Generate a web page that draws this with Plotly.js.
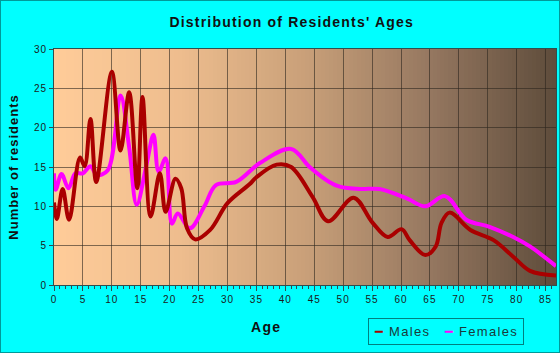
<!DOCTYPE html>
<html>
<head>
<meta charset="utf-8">
<script src="https://cdn.plot.ly/plotly-3.0.1.min.js"></script>
<style>
  html, body { margin: 0; padding: 0; background: #00FFFF; }
  #wrap { position: relative; width: 560px; height: 353px; }
  #bg { position: absolute; left: 54px; top: 49px; width: 502px; height: 236px; display: flex; }
  #bg div { height: 100%; flex: 1 1 0; }
  #chart { position: absolute; left: 0; top: 0; width: 560px; height: 353px; }
  #frame { position: absolute; left: 0; top: 0; width: 560px; height: 353px; box-sizing: border-box; border: 1px solid #009A9A; pointer-events: none; }
  .gtitle { letter-spacing: 1.2px; }
  .ytitle { letter-spacing: 1px; }
  .annotation-text { letter-spacing: 1.3px; }
  .xtick text, .ytick text { letter-spacing: 1px; }
</style>
</head>
<body>
<div id="wrap"><div id="bg"></div><div id="chart"></div><div id="frame"></div></div>
<script>
// Males: ages and counts
const maleAges = [0, 0.5, 1.5, 2.6, 4.5, 5.3, 6.3, 7.3, 10, 11.5, 13, 14.4, 15.3, 16.7, 18.3, 19.3, 21, 22, 23, 24.4, 27, 30, 33.8, 35, 38.5, 41, 44.7, 47.4, 51.8, 55, 57.7, 60.1, 61.5, 64.2, 66, 67, 68.4, 72, 76, 79.4, 82.3, 86.8];
const maleCounts = [10.5, 8.4, 12.2, 8.3, 16.2, 15.1, 21.1, 13.1, 27.1, 17.1, 24.5, 12.3, 23.9, 8.7, 14.2, 9.3, 13.5, 12.3, 7.2, 5.8, 7.0, 10.4, 12.8, 13.7, 15.3, 15.0, 11.2, 8.1, 11.1, 8.0, 6.1, 7.1, 5.7, 3.8, 4.9, 7.9, 9.2, 7.0, 5.7, 3.6, 1.8, 1.2];

// Females: ages and counts
const femaleAges = [0, 0.3, 1.3, 2.5, 3.7, 5, 6.3, 7.4, 9.3, 11.5, 13, 14.3, 16, 17.2, 18.1, 19.3, 20.4, 21.4, 23.5, 26, 28, 31.5, 35.6, 41, 44.2, 47.6, 49.4, 53, 56.3, 61, 64.2, 67.6, 71.3, 75.3, 79.4, 82.3, 86.8];
const femaleCounts = [14.2, 12.1, 14.1, 12.3, 14.2, 14.2, 15.1, 14.0, 14.6, 24.1, 17.5, 10.2, 15.3, 19.1, 14.4, 16.1, 7.8, 9.1, 7.2, 10.0, 12.7, 13.1, 15.5, 17.3, 15.0, 13.1, 12.5, 12.2, 12.2, 11.0, 10.0, 11.3, 8.3, 7.4, 6.1, 4.9, 2.4];

const seriesNames = ['Males', 'Females'];
const seriesColors = ['#AA0000', '#FF00FF'];

// plot-area background: solid stripes interpolated between colour stops
(function () {
  const stops = [[0, [255, 204, 153]], [0.25, [238, 189, 142]], [0.5, [201, 160, 121]], [0.75, [149, 119, 96]], [1, [94, 76, 59]]];
  const n = 126;
  const bg = document.getElementById('bg');
  for (let i = 0; i < n; i++) {
    const t = (i + 0.5) / n;
    let k = 0;
    while (k < stops.length - 2 && t > stops[k + 1][0]) k++;
    const a = stops[k], b = stops[k + 1];
    const f = (t - a[0]) / (b[0] - a[0]);
    const c = a[1].map((v, j) => Math.round(v + (b[1][j] - v) * f));
    const d = document.createElement('div');
    d.style.background = 'rgb(' + c.join(',') + ')';
    bg.appendChild(d);
  }
})();

const traces = [
  { x: maleAges, y: maleCounts, name: seriesNames[0], type: 'scatter', mode: 'lines',
    line: { color: seriesColors[0], width: 4, shape: 'spline', smoothing: 1 } },
  { x: femaleAges, y: femaleCounts, name: seriesNames[1], type: 'scatter', mode: 'lines',
    line: { color: seriesColors[1], width: 4, shape: 'spline', smoothing: 1 } }
];
// draw males on top
const data = [traces[1], traces[0]];

const axisDark = '#2F4F4F';
const gridCol = 'rgba(45,38,30,0.6)';
const tickFont = { family: 'Arial, Liberation Sans, sans-serif', size: 10, color: '#1a1a1a' };

const legendText = '<span style="color:' + seriesColors[0] + ';font-family:DejaVu Sans">━</span> ' + seriesNames[0] +
  '   <span style="color:' + seriesColors[1] + ';font-family:DejaVu Sans">━</span> ' + seriesNames[1];

const layout = {
  width: 560, height: 353,
  margin: { l: 54, r: 4, t: 49, b: 68 },
  paper_bgcolor: 'rgba(0,0,0,0)',
  plot_bgcolor: 'rgba(0,0,0,0)',
  showlegend: false,
  title: { text: "Distribution of Residents' Ages", xref: 'container', x: 0.521, xanchor: 'center',
           yref: 'container', y: 0.936, yanchor: 'middle',
           font: { family: 'Arial, Liberation Sans, sans-serif', size: 14, color: '#111', weight: 'bold' } },
  xaxis: {
    range: [0, 86.8], tick0: 0, dtick: 5, ticks: 'outside', ticklen: 5, tickcolor: axisDark, tickwidth: 1,
    showline: true, linecolor: axisDark, linewidth: 1, mirror: true,
    showgrid: true, gridcolor: gridCol, gridwidth: 1, zeroline: false,
    tickfont: tickFont,
    minor: { dtick: 1, ticks: 'outside', ticklen: 3, tickcolor: axisDark, showgrid: false }
  },
  yaxis: {
    range: [0, 30], tick0: 0, dtick: 5, ticks: 'outside', ticklen: 4, tickcolor: axisDark,
    showline: true, linecolor: axisDark, linewidth: 1, mirror: true,
    showgrid: true, gridcolor: gridCol, gridwidth: 1, zeroline: false,
    tickfont: tickFont,
    title: { text: 'Number of residents', standoff: 12,
             font: { family: 'Arial, Liberation Sans, sans-serif', size: 13, color: '#111', weight: 'bold' } }
  },
  annotations: [
    { text: 'Age', xref: 'paper', yref: 'paper', x: 0.422, y: -0.18, xanchor: 'center', yanchor: 'middle',
      showarrow: false, font: { family: 'Arial, Liberation Sans, sans-serif', size: 14, color: '#111', weight: 'bold' } },
    { text: legendText, xref: 'paper', yref: 'paper', x: 0.625, y: -0.14, xanchor: 'left', yanchor: 'top',
      showarrow: false, bgcolor: '#00FFFF', bordercolor: '#008080', borderwidth: 1, borderpad: 5,
      font: { family: 'Arial, Liberation Sans, sans-serif', size: 13, color: '#1a3a3a' } }
  ]
};

Plotly.newPlot('chart', data, layout, { displayModeBar: false, staticPlot: true });
</script>
</body>
</html>
